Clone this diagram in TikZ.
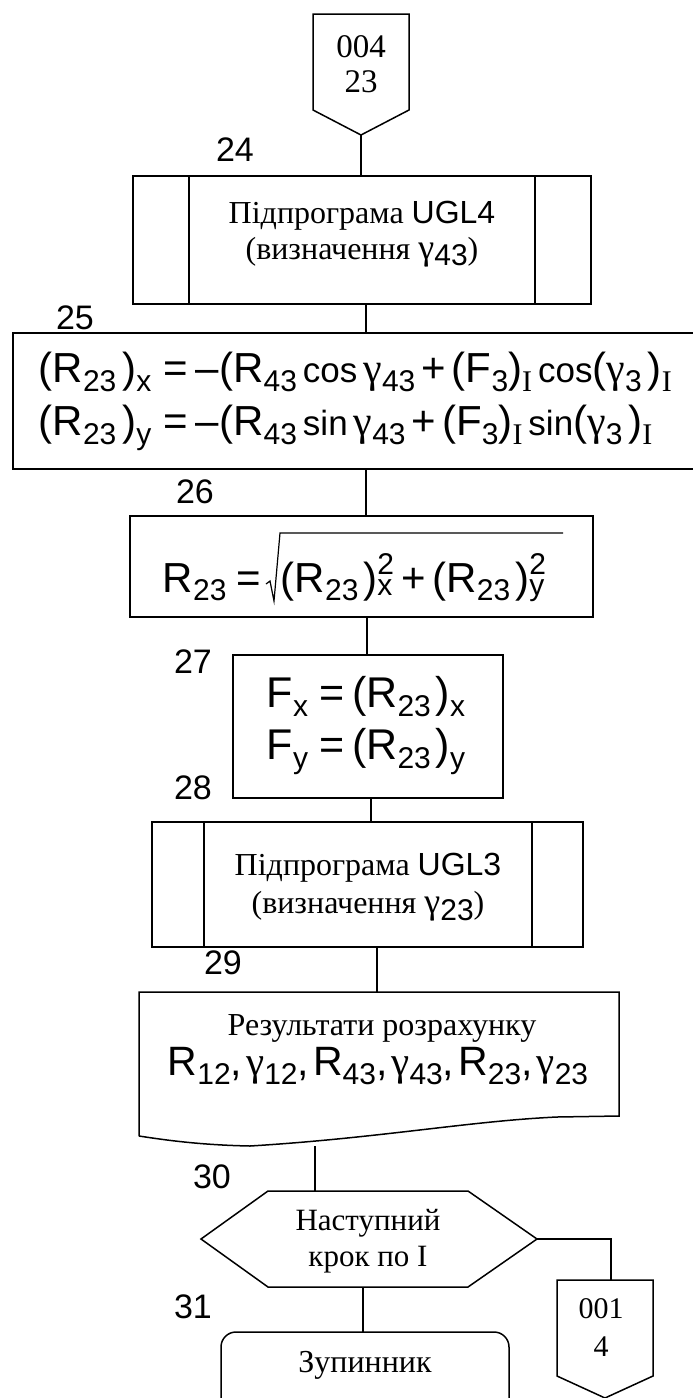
\documentclass[tikz,border=0pt]{standalone}
\usepackage{fontspec}
\setmainfont{Liberation Serif}
\newfontfamily\sansf{Liberation Sans}
\newfontfamily\serf{Liberation Serif}
\newcommand\fs[1]{\fontsize{#1}{#1}\selectfont}
% lowered index / raised exponent
\newcommand\dn[2][30]{\raisebox{-0.21em}{\fs{#1}#2}}
\newcommand\ix[2][30]{\raisebox{-0.21em}{\fs{#1}\serf #2}}
\newcommand\ud[2]{\rlap{\raisebox{-0.08em}{\fs{30}#1}}\raisebox{0.42em}{\fs{30}#2}}
\newcommand\gm{{\serf γ}}
\newcommand\fn[1]{{\fs{35}#1}}
\newcommand\hs[1]{\hspace{#1pt}}
\begin{document}
\begin{tikzpicture}[x=1pt,y=-1pt,line width=1.5pt,
  frame/.style={draw,line width=1.5pt,inner sep=0pt},
  lbl/.style={font=\sansf\fs{34},inner sep=0pt},
  tx/.style={font=\serf\fs{32},inner sep=0pt},
  fm/.style={font=\sansf\fs{42},inner sep=0pt}]
\useasboundingbox (0,0) rectangle (693,1398);

% entry connector 004/23
\draw (313,14) -- (409,14) -- (409,110) -- (361,135) -- (313,110) -- cycle;
\coordinate (c004) at (361,135);
\node[tx,align=center,font=\serf\fontsize{33}{35}\selectfont] (t004) at (361,64) {004\\23};

% 24: subroutine UGL4
\node[lbl] (n24) at (235,150) {24};
\node[frame,minimum width=458,minimum height=128] (b24) at (362,240) {};
\draw (189,176) -- (189,304) (535,176) -- (535,304);
\node[tx] (t24a) at (362,216) {Підпрограма {\sansf UGL4}};
\node[tx] (t24b) at (362,252) {(визначення {\fs{36}\gm}{\sansf\dn{43}})};

% 25
\node[lbl] (n25) at (75,318) {25};
\node[frame,minimum width=687,minimum height=136] (b25) at (356.5,401) {};
\node[fm,anchor=west] (f25a) at (38,372) {(R\dn{23}\hs6)\dn{x}\hs{12}=\hs8–(R\dn{43}\hs6\fn{cos}\hs6\gm\dn{43}\hs6+\hs6(F\dn{3})\ix{I}\hs6\fn{cos}(\gm\dn{3}\hs6)\ix{I}};
\node[fm,anchor=west] (f25b) at (38,428) {(R\dn{23}\hs6)\dn{y}\hs{12}=\hs8–(R\dn{43}\hs6\fn{sin}\hs6\gm\dn{43}\hs6+\hs6(F\dn{3})\ix{I}\hs6\fn{sin}(\gm\dn{3}\hs6)\ix{I}};

% 26
\node[lbl] (n26) at (195,492) {26};
\node[frame,minimum width=463,minimum height=101] (b26) at (361.5,566.5) {};
\node[fm,anchor=base west] (f26a) at (162,592) {R\dn{23}\hs{10}=};
\node[fm,anchor=base west] (f26b) at (280,592) {(R\dn{23}\hs5)\ud{x}{2}\hs7+\hs7(R\dn{23}\hs5)\ud{y}{2}};
\draw[line width=1.2pt] (266,584) -- (270,581) -- (274,601) -- (280,533) -- (563,533);

% 27
\node[lbl] (n27) at (193,662) {27};
\node[frame,minimum width=270,minimum height=143] (b27) at (368,726.5) {};
\node[fm,font=\sansf\fs{43}] (f27a) at (366,697) {F\dn{x}\hs{11}=\hs8(R\dn{23}\hs5)\dn{x}};
\node[fm,font=\sansf\fs{43}] (f27b) at (366,752) {F\dn{y}\hs{11}=\hs8(R\dn{23}\hs5)\dn{y}};

% 28: subroutine UGL3
\node[lbl] (n28) at (193,788) {28};
\node[frame,minimum width=431,minimum height=125] (b28) at (367.5,884.5) {};
\draw (204,822) -- (204,947) (532,822) -- (532,947);
\node[tx] (t28a) at (368,868) {Підпрограма {\sansf UGL3}};
\node[tx] (t28b) at (368,906) {(визначення {\fs{36}\gm}{\sansf\dn{23}})};

% 29: output document
\node[lbl] (n29) at (223,963) {29};
\draw (139,1136) -- (139,992) -- (619,992) -- (619,1116) -- (557,1117)
  .. controls (470,1121) and (380,1138) .. (250,1146)
  .. controls (200,1145) and (165,1140) .. (139,1136);
\coordinate (d29top) at (377,992);
\coordinate (d29bot) at (315,1146);
\node[tx] (t29a) at (382,1028) {Результати розрахунку};
\node[fm,font=\sansf\fs{41}] (t29b) at (378,1066) {R\dn{12},\hs4\gm\dn{12},\hs4R\dn{43},\hs4\gm\dn{43},\hs4R\dn{23},\hs4\gm\dn{23}};

% 30: loop end
\node[lbl] (n30) at (212,1177) {30};
\draw (201,1239) -- (268,1191) -- (468,1191) -- (537,1239) -- (468,1287) -- (268,1287) -- cycle;
\coordinate (h30n) at (315,1191);
\coordinate (h30e) at (537,1239);
\coordinate (h30s) at (363,1287);
\node[tx,align=center,font=\serf\fontsize{31}{36}\selectfont] (t30) at (368,1241) {Наступний\\крок по I};

% 31: stop
\node[lbl] (n31) at (193,1307) {31};
\draw[rounded corners=15pt] (221,1420) -- (221,1332) -- (509,1332) -- (509,1420);
\coordinate (s31n) at (363,1332);
\node[tx] (t31) at (365,1365) {Зупинник};

% exit connector 001/4
\draw (557,1280) -- (653,1280) -- (653,1376) -- (605,1398) -- (557,1376) -- cycle;
\coordinate (c001) at (611,1280);
\node[tx,align=center,font=\serf\fontsize{30}{38}\selectfont] (t001) at (601,1328) {001\\4};

% flow lines
\draw (c004) -- (c004 |- b24.north);
\draw (b24.south -| 366,0) -- (b25.north -| 366,0);
\draw (b25.south -| 366,0) -- (b26.north -| 366,0);
\draw (b26.south -| 367,0) -- (b27.north -| 367,0);
\draw (b27.south -| 371,0) -- (b28.north -| 371,0);
\draw (b28.south -| 377,0) -- (d29top);
\draw (d29bot) -- (h30n);
\draw (h30s) -- (s31n);
\draw (h30e) -| (c001);
\end{tikzpicture}
\end{document}
